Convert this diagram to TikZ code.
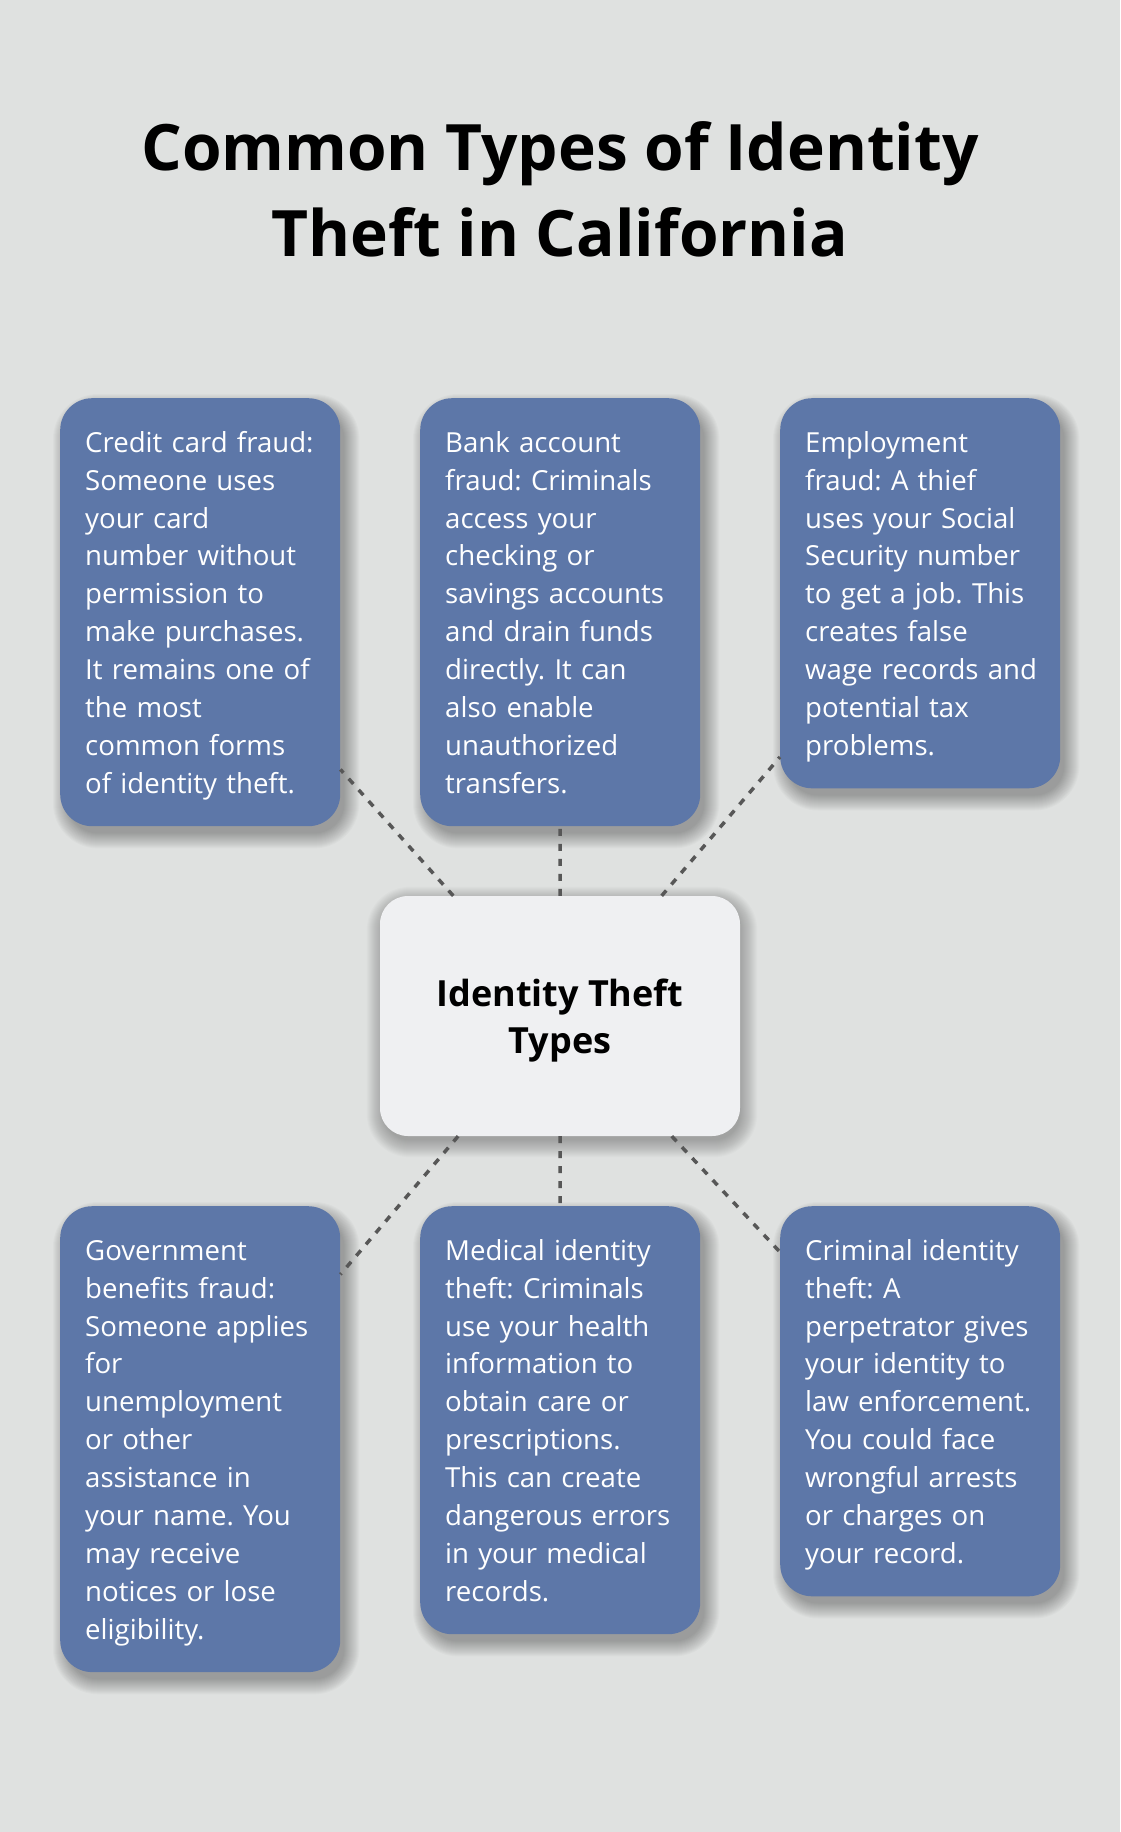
\documentclass[tikz,border=0pt]{standalone}
\usepackage{fontspec}
\setmainfont{Open Sans}
\usetikzlibrary{calc}
\definecolor{bgc}{HTML}{DFE1E0}
\definecolor{boxblue}{HTML}{5D77A8}
\definecolor{cboxc}{HTML}{EFF0F2}
\definecolor{connc}{HTML}{575757}
\newcommand\Ls{\rule[-8.4pt]{0pt}{37.9pt}}
\newcommand\Ln[1]{\mbox{\Ls #1}}
\newcommand\Lc{\rule[-10pt]{0pt}{47pt}}
\newcommand\Lt{\rule[-26pt]{0pt}{86pt}}
\pgfdeclarelayer{backlayer}
\pgfdeclarelayer{shadowlayer}
\pgfsetlayers{backlayer,shadowlayer,main}
\frenchspacing
\begin{document}
\frenchspacing
\begin{tikzpicture}[x=1pt,y=-1pt,
  card/.style={fill=boxblue, rounded corners=32pt, text=white, anchor=north west,
    text width=230pt, inner xsep=25pt, inner ysep=0pt, align=left,
    font=\fontsize{27.6}{37.9}\selectfont\frenchspacing},
  hub/.style={fill=cboxc, rounded corners=28pt, text=black, minimum width=360pt, minimum height=240pt,
    inner sep=0pt, align=center, font=\fontsize{36}{47}\selectfont\bfseries},
  titletext/.style={inner sep=0pt, align=center, text=black, font=\fontsize{64}{86}\selectfont\bfseries},
  connector/.style={draw=connc, line width=3.5pt, dash pattern=on 7pt off 8pt},
  softshade/.style={fill=black, opacity=0.02}
]
\begin{pgfonlayer}{backlayer}
\fill[bgc] (0,0) rectangle (1120,1832);
\end{pgfonlayer}
\useasboundingbox (0,0) rectangle (1120,1832);

\node[titletext] (title) at (560,196) {\Lt Common Types of Identity\\\Lt Theft in California};

\node[card, minimum height=428pt] (t1) at (60,398) {\Ln{Credit card fraud:}\\\Ln{Someone uses}\\\Ln{your card}\\\Ln{number without}\\\Ln{permission to}\\\Ln{make purchases.}\\\Ln{It remains one of}\\\Ln{the most}\\\Ln{common forms}\\\Ln{of identity theft.}};
\node[card, minimum height=428pt] (t2) at (420,398) {\Ln{Bank account}\\\Ln{fraud: Criminals}\\\Ln{access your}\\\Ln{checking or}\\\Ln{savings accounts}\\\Ln{and drain funds}\\\Ln{directly. It can}\\\Ln{also enable}\\\Ln{unauthorized}\\\Ln{transfers.}};
\node[card, minimum height=390.1pt] (t3) at (780,398) {\Ln{Employment}\\\Ln{fraud: A thief}\\\Ln{uses your Social}\\\Ln{Security number}\\\Ln{to get a job. This}\\\Ln{creates false}\\\Ln{wage records and}\\\Ln{potential tax}\\\Ln{problems.}};

\node[card, minimum height=465.9pt] (b1) at (60,1206) {\Ln{Government}\\\Ln{benefits fraud:}\\\Ln{Someone applies}\\\Ln{for}\\\Ln{unemployment}\\\Ln{or other}\\\Ln{assistance in}\\\Ln{your name. You}\\\Ln{may receive}\\\Ln{notices or lose}\\\Ln{eligibility.}};
\node[card, minimum height=428pt] (b2) at (420,1206) {\Ln{Medical identity}\\\Ln{theft: Criminals}\\\Ln{use your health}\\\Ln{information to}\\\Ln{obtain care or}\\\Ln{prescriptions.}\\\Ln{This can create}\\\Ln{dangerous errors}\\\Ln{in your medical}\\\Ln{records.}};
\node[card, minimum height=390.1pt] (b3) at (780,1206) {\Ln{Criminal identity}\\\Ln{theft: A}\\\Ln{perpetrator gives}\\\Ln{your identity to}\\\Ln{law enforcement.}\\\Ln{You could face}\\\Ln{wrongful arrests}\\\Ln{or charges on}\\\Ln{your record.}};

\node[hub] (c) at (560,1016) {\Lc Identity Theft\\\Lc Types};

\begin{pgfonlayer}{shadowlayer}
\foreach \n in {t1,t2,t3,b1,b2,b3} {
  \foreach \k [evaluate=\k as \r using 32+\k] in {-2,...,13} {
    \fill[softshade, rounded corners=\r pt] ($(\n.north west)+(6-\k,9-\k)$) rectangle ($(\n.south east)+(6+\k,9+\k)$);
  }
}
\foreach \k [evaluate=\k as \r using 28+\k] in {-2,...,15} {
  \fill[softshade, opacity=0.017, rounded corners=\r pt] ($(c.north west)+(2-\k,6-\k)$) rectangle ($(c.south east)+(2+\k,6+\k)$);
}
\end{pgfonlayer}

\draw[connector] (c) -- (t1);
\draw[connector] (c) -- (t2);
\draw[connector] (c) -- (t3);
\draw[connector] (c) -- (b1);
\draw[connector] (c) -- (b2);
\draw[connector] (c) -- (b3);
\end{tikzpicture}
\end{document}
